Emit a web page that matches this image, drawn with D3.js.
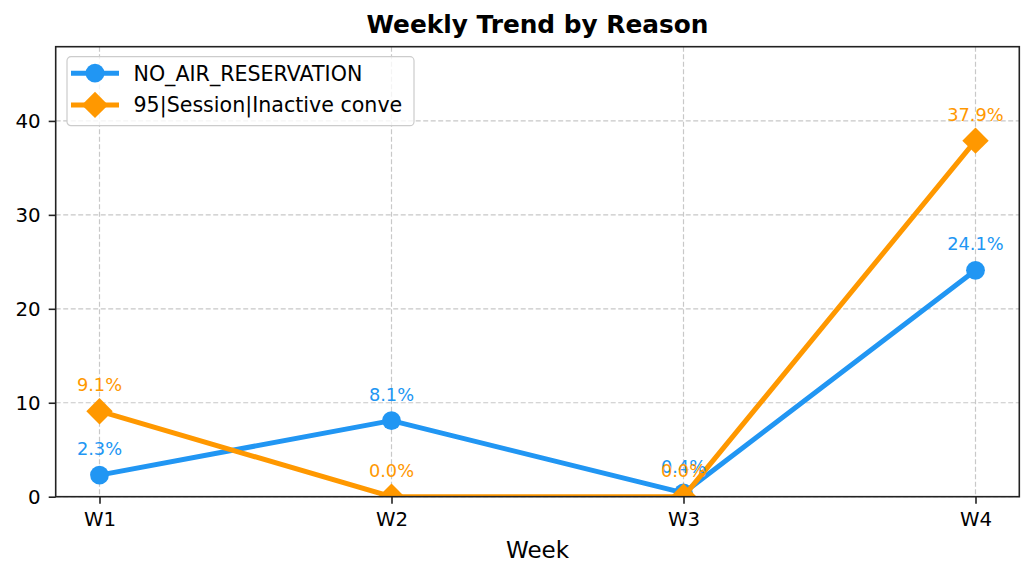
<!DOCTYPE html>
<html>
<head>
<meta charset="utf-8">
<script src="https://cdn.jsdelivr.net/npm/d3@7/dist/d3.min.js"></script>
<style>
  body { margin: 0; background: #fff; }
  svg { display: block; font-family: "DejaVu Sans", sans-serif; }
</style>
</head>
<body>
<div id="chart"></div>
<script>
// Data
const weeks = ["W1", "W2", "W3", "W4"];
const noAirReservation = [2.3, 8.1, 0.4, 24.1];
const inactiveSession = [9.1, 0.0, 0.0, 37.9];
const seriesNames = ["NO_AIR_RESERVATION", "95|Session|Inactive conve"];
const yTicks = [0, 10, 20, 30, 40];

const W = 1035, H = 579;
const margin = { top: 46.7, right: 15.7, bottom: 82.3, left: 55.7 };
const width = W - margin.left - margin.right;
const height = H - margin.top - margin.bottom;

const blue = "#2196F3";
const orange = "#FF9800";

const svg = d3.select("#chart").append("svg")
  .attr("width", W)
  .attr("height", H);

const g = svg.append("g")
  .attr("transform", `translate(${margin.left},${margin.top})`);

// Scales
const x = d3.scalePoint().domain(weeks).range([0, width]).padding(0.15);
const y = d3.scaleLinear().domain([0, 47.9]).range([height, 0]);

// Grid
g.append("g").selectAll("line")
  .data(yTicks)
  .enter().append("line")
  .attr("x1", 0).attr("x2", width)
  .attr("y1", d => y(d)).attr("y2", d => y(d))
  .attr("stroke", "#c8c8c8").attr("stroke-width", 1.2)
  .attr("stroke-dasharray", "5,2.5");

g.append("g").selectAll("line")
  .data(weeks)
  .enter().append("line")
  .attr("x1", d => x(d)).attr("x2", d => x(d))
  .attr("y1", 0).attr("y2", height)
  .attr("stroke", "#c8c8c8").attr("stroke-width", 1.2)
  .attr("stroke-dasharray", "5,2.5");

// Clip to the axes box
svg.append("defs").append("clipPath").attr("id", "plotclip")
  .append("rect").attr("width", width).attr("height", height);

const plot = g.append("g").attr("clip-path", "url(#plotclip)");
const labels = g.append("g");

const line = d3.line()
  .x((d, i) => x(weeks[i]))
  .y(d => y(d));

const diamond = s => `M0,${-s}L${s},0L0,${s}L${-s},0Z`;

function drawSeries(values, color, marker) {
  plot.append("path")
    .datum(values)
    .attr("fill", "none")
    .attr("stroke", color)
    .attr("stroke-width", 5)
    .attr("stroke-linejoin", "round")
    .attr("d", line);

  if (marker === "circle") {
    plot.selectAll(null)
      .data(values)
      .enter().append("circle")
      .attr("cx", (d, i) => x(weeks[i]))
      .attr("cy", d => y(d))
      .attr("r", 9.4)
      .attr("fill", color);
  } else {
    plot.selectAll(null)
      .data(values)
      .enter().append("path")
      .attr("transform", (d, i) => `translate(${x(weeks[i])},${y(d)})`)
      .attr("d", diamond(13.2))
      .attr("fill", color);
  }

  labels.selectAll(null)
    .data(values)
    .enter().append("text")
    .attr("x", (d, i) => x(weeks[i]))
    .attr("y", d => y(d) - 20)
    .attr("text-anchor", "middle")
    .attr("fill", color)
    .style("font-size", "17.8px")
    .text(d => d.toFixed(1) + "%");
}

drawSeries(noAirReservation, blue, "circle");
drawSeries(inactiveSession, orange, "diamond");

// Axes
const xAxis = g.append("g")
  .attr("transform", `translate(0,${height})`)
  .call(d3.axisBottom(x).tickSize(7).tickPadding(8));
const yAxis = g.append("g")
  .call(d3.axisLeft(y).tickValues(yTicks).tickSize(7).tickPadding(8));

[xAxis, yAxis].forEach(a => {
  a.select(".domain").remove();
  a.selectAll("line").attr("stroke", "#222").attr("stroke-width", 1.6);
  a.selectAll("text").attr("fill", "#000").style("font-size", "19.8px")
    .style("font-family", "DejaVu Sans");
});

// Frame
g.append("rect")
  .attr("width", width).attr("height", height)
  .attr("fill", "none")
  .attr("stroke", "#222").attr("stroke-width", 1.6);

// Title and axis label
svg.append("text")
  .attr("x", margin.left + width / 2).attr("y", 33)
  .attr("text-anchor", "middle")
  .style("font-size", "24.8px").style("font-weight", "bold")
  .text("Weekly Trend by Reason");

svg.append("text")
  .attr("x", margin.left + width / 2).attr("y", 558)
  .attr("text-anchor", "middle")
  .style("font-size", "23px")
  .text("Week");

// Legend
const legend = g.append("g").attr("transform", "translate(11.3,10)");
legend.append("rect")
  .attr("width", 347).attr("height", 69)
  .attr("rx", 4)
  .attr("fill", "#fff").attr("fill-opacity", 0.8)
  .attr("stroke", "#cccccc").attr("stroke-width", 1.2);

const legendItems = [
  { name: seriesNames[0], color: blue, marker: "circle" },
  { name: seriesNames[1], color: orange, marker: "diamond" }
];

legendItems.forEach((item, i) => {
  const row = legend.append("g").attr("transform", `translate(0,${16.5 + i * 31.7})`);
  row.append("line")
    .attr("x1", 4).attr("x2", 52)
    .attr("stroke", item.color).attr("stroke-width", 5);
  if (item.marker === "circle") {
    row.append("circle").attr("cx", 28).attr("r", 9.4).attr("fill", item.color);
  } else {
    row.append("path").attr("transform", "translate(28,0)")
      .attr("d", diamond(13.2)).attr("fill", item.color);
  }
  row.append("text")
    .attr("x", 66.5).attr("y", 7.5)
    .style("font-size", "20.6px")
    .text(item.name);
});
</script>
</body>
</html>
